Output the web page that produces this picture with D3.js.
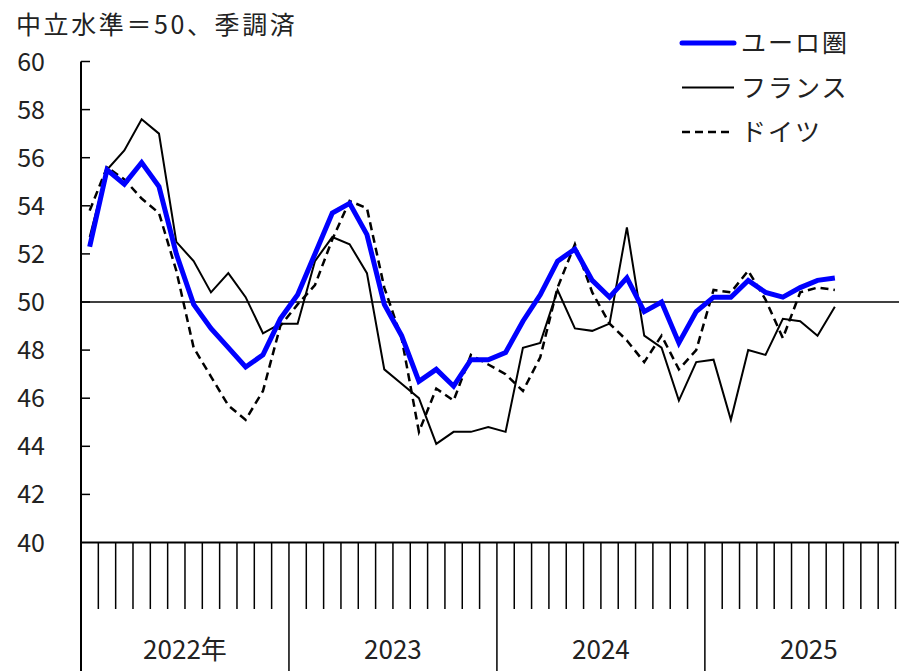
<!DOCTYPE html>
<html><head><meta charset="utf-8">
<script src="https://cdn.jsdelivr.net/npm/d3@7"></script>
<style>
html,body{margin:0;padding:0;background:#fff;}
svg{display:block;font-family:"Noto Sans CJK JP","Noto Sans",sans-serif;}
</style></head>
<body>
<svg id="c" width="899" height="671"></svg>
<script>
// Monthly data Jan 2022 – Aug 2025
const years = ["2022年", "2023", "2024", "2025"];
const euroArea = [52.3,55.5,54.9,55.8,54.8,52.0,49.9,48.9,48.1,47.3,47.8,49.3,
                  50.3,52.0,53.7,54.1,52.8,49.9,48.6,46.7,47.2,46.5,47.6,47.6,
                  47.9,49.2,50.3,51.7,52.2,50.9,50.2,51.0,49.6,50.0,48.3,49.6,
                  50.2,50.2,50.9,50.4,50.2,50.6,50.9,51.0];
const france   = [52.7,55.5,56.3,57.6,57.0,52.5,51.7,50.4,51.2,50.2,48.7,49.1,
                  49.1,51.7,52.7,52.4,51.2,47.2,46.6,46.0,44.1,44.6,44.6,44.8,
                  44.6,48.1,48.3,50.5,48.9,48.8,49.1,53.1,48.6,48.1,45.9,47.5,
                  47.6,45.1,48.0,47.8,49.3,49.2,48.6,49.8];
const germany  = [53.8,55.6,55.1,54.3,53.7,51.3,48.1,46.9,45.7,45.1,46.3,49.0,
                  49.9,50.7,52.6,54.2,53.9,50.6,48.5,44.6,46.4,45.9,47.8,47.4,
                  47.0,46.3,47.7,50.6,52.4,50.4,49.1,48.4,47.5,48.6,47.2,48.0,
                  50.5,50.4,51.3,50.1,48.5,50.4,50.6,50.5];
const seriesNames = ["ユーロ圏", "フランス", "ドイツ"];
const yTicks = [40,42,44,46,48,50,52,54,56,58,60];
const title = "中立水準＝50、季調済";

const svg = d3.select("#c");
const x0 = 81, monthW = 17.33, nMonths = 48;
const x = d3.scaleLinear().domain([0, nMonths]).range([x0, x0 + nMonths*monthW]);
const y = d3.scaleLinear().domain([40, 60]).range([542.5, 61.5]);

// title
svg.append("text").attr("x", 16).attr("y", 34).attr("font-size", 25)
  .attr("letter-spacing", 2.6).attr("fill", "#222").text(title);

// y labels
svg.selectAll(".yl").data(yTicks).enter().append("text")
  .attr("x", 45).attr("y", d => y(d)).attr("dy", "0.36em").attr("text-anchor", "end")
  .attr("font-size", 25).attr("fill", "#222").text(d => d);

// y axis & ticks
svg.append("line").attr("x1", x0).attr("x2", x0).attr("y1", y(60)).attr("y2", 671)
  .attr("stroke", "#000").attr("stroke-width", 2);
svg.selectAll(".yt").data(yTicks.filter(d => d > 40)).enter().append("line")
  .attr("x1", x0).attr("x2", x0 + 9).attr("y1", d => y(d)).attr("y2", d => y(d))
  .attr("stroke", "#000").attr("stroke-width", 1.5);

// x axis line at 40
svg.append("line").attr("x1", x0).attr("x2", 899).attr("y1", y(40)).attr("y2", y(40))
  .attr("stroke", "#000").attr("stroke-width", 2);
// month ticks
svg.selectAll(".xt").data(d3.range(0, nMonths + 1)).enter().append("line")
  .attr("x1", d => x(d)).attr("x2", d => x(d)).attr("y1", y(40))
  .attr("y2", d => d % 12 === 0 ? 671 : 609)
  .attr("stroke", "#000").attr("stroke-width", 1.5);
// year labels
svg.selectAll(".yr").data(years).enter().append("text")
  .attr("x", (d, i) => x(i*12 + 6)).attr("y", 659).attr("text-anchor", "middle")
  .attr("font-size", 26).attr("fill", "#222").text(d => d);

// 50 line
svg.append("line").attr("x1", x0).attr("x2", 899).attr("y1", y(50)).attr("y2", y(50))
  .attr("stroke", "#000").attr("stroke-width", 1.5);

const line = d3.line().x((d, i) => x(i + 0.5)).y(d => y(d));
const styles = [
  {data: euroArea, color: "#0000ff", w: 5, dash: null},
  {data: france, color: "#000", w: 2, dash: null},
  {data: germany, color: "#000", w: 2.5, dash: "8,5"}
];
// draw order: germany, france, euro on top
[2, 1, 0].forEach(k => {
  const s = styles[k];
  svg.append("path").attr("d", line(s.data)).attr("fill", "none")
    .attr("stroke", s.color).attr("stroke-width", s.w)
    .attr("stroke-dasharray", s.dash).attr("stroke-linejoin", "miter");
});

// legend
styles.forEach((s, i) => {
  const ly = 43 + i*44.5;
  svg.append("line").attr("x1", 682).attr("x2", 734).attr("y1", ly).attr("y2", ly)
    .attr("stroke", s.color).attr("stroke-width", s.w)
    .attr("stroke-linecap", i === 0 ? "round" : "butt")
    .attr("stroke-dasharray", s.dash);
  svg.append("text").attr("x", 741).attr("y", ly).attr("dy", "0.36em")
    .attr("font-size", 25).attr("letter-spacing", 2).attr("fill", "#222").text(seriesNames[i]);
});
</script>
</body></html>
